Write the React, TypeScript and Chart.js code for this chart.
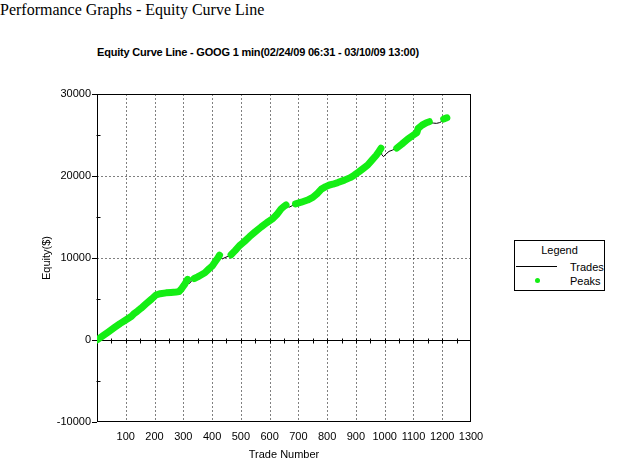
import React, { useEffect, useRef } from "react";
import { Chart, registerables } from "chart.js";

Chart.register(...registerables);

// Equity after each sampled trade (trade number -> equity in $)
const tradeNumbers = [
  0, 20, 40, 60, 80, 100, 120, 130, 140, 153, 170, 190, 205, 220, 240, 257, 275, 285, 295, 303,
  310, 315, 318, 322, 328, 338, 350, 360, 375, 390, 400, 410, 420, 426, 430, 436, 445, 455, 466, 480,
  495, 512, 530, 550, 571, 590, 611, 625, 640, 650, 657, 662, 668, 680, 690, 710, 732, 750, 767, 780,
  795, 808, 820, 837, 860, 880, 894, 910, 925, 941, 955, 970, 980, 987, 990, 996, 1005, 1015, 1028, 1042,
  1060, 1080, 1100, 1112, 1116, 1130, 1145, 1155, 1160, 1170, 1180, 1190, 1196, 1205, 1216,
];
const equity = [
  0, 500, 1000, 1500, 2000, 2440, 2900, 3250, 3500, 3860, 4400, 5000, 5490, 5650, 5750, 5800, 5850, 5900, 6300, 6700,
  7100, 7400, 7000, 6900, 7200, 7500, 7700, 7900, 8200, 8700, 9000, 9500, 10000, 10350, 10100, 9900, 10050, 10200, 10400, 10900,
  11500, 12000, 12600, 13200, 13800, 14300, 14800, 15300, 16000, 16300, 16460, 16300, 16200, 16400, 16600, 16800, 17070, 17400, 17900, 18400,
  18700, 18900, 19000, 19200, 19500, 19800, 20100, 20500, 20900, 21340, 21900, 22500, 23000, 23380, 22600, 22360, 22700, 23000, 23170, 23400,
  23900, 24500, 25000, 25300, 25800, 26200, 26500, 26620, 26500, 26450, 26420, 26500, 26600, 26950, 27100, 27350,
];

const xMin = 0;
const xMax = 1300;
const xStep = 100;
const yMin = -10000;
const yMax = 30000;
const yStep = 10000;
const dottedYLines = [10000, 20000];
const minorYTicks = [-5000, 5000, 15000, 25000];

const pageTitle = "Performance Graphs - Equity Curve Line";
const chartTitle = "Equity Curve Line - GOOG 1 min(02/24/09 06:31 - 03/10/09 13:00)";
const xTitle = "Trade Number";
const yTitle = "Equity($)";
const legendTitle = "Legend";
const tradesLabel = "Trades";
const peaksLabel = "Peaks";

const GREEN = "#14ee14";
const SANS = "'Liberation Sans', Arial, sans-serif";

// Frame, dotted grid, zero line and minor ticks
const framePlugin = {
  id: "frameAndGrid",
  beforeDatasetsDraw(chart: any) {
    const { ctx, chartArea: a, scales } = chart;
    const xs = scales.x;
    const ys = scales.y;
    const L = Math.round(a.left) + 0.5;
    const R = Math.round(a.right) - 0.5;
    const T = Math.round(a.top) + 0.5;
    const B = Math.round(a.bottom) - 0.5;
    ctx.save();
    ctx.strokeStyle = "#000";
    ctx.lineWidth = 1;
    ctx.setLineDash([1, 3]);
    for (let v = xMin + xStep; v < xMax; v += xStep) {
      const px = Math.round(xs.getPixelForValue(v)) + 0.5;
      ctx.beginPath();
      ctx.moveTo(px, T);
      ctx.lineTo(px, B);
      ctx.stroke();
    }
    for (const v of dottedYLines) {
      const py = Math.round(ys.getPixelForValue(v)) + 0.5;
      ctx.beginPath();
      ctx.moveTo(L, py);
      ctx.lineTo(R, py);
      ctx.stroke();
    }
    ctx.setLineDash([]);
    const zy = Math.round(ys.getPixelForValue(0)) + 0.5;
    ctx.beginPath();
    ctx.moveTo(L, zy);
    ctx.lineTo(R, zy);
    ctx.stroke();
    for (let v = xMin + xStep / 2; v < xMax; v += xStep / 2) {
      const px = Math.round(xs.getPixelForValue(v)) + 0.5;
      ctx.beginPath();
      ctx.moveTo(px, zy - 2);
      ctx.lineTo(px, zy + 3);
      ctx.stroke();
    }
    for (const v of minorYTicks) {
      const py = Math.round(ys.getPixelForValue(v)) + 0.5;
      ctx.beginPath();
      ctx.moveTo(L - 1, py);
      ctx.lineTo(L + 3, py);
      ctx.stroke();
    }
    ctx.strokeRect(L, T, R - L, B - T);
    ctx.restore();
  },
};

export default function App() {
  const canvasRef = useRef<HTMLCanvasElement | null>(null);

  useEffect(() => {
    if (!canvasRef.current) return;
    const trades = tradeNumbers.map((t, i) => ({ x: t, y: equity[i] }));
    let runMax = -Infinity;
    const peaks = tradeNumbers.map((t, i) => {
      const v = equity[i];
      if (v >= runMax) {
        runMax = v;
        return { x: t, y: v };
      }
      return { x: t, y: null as number | null };
    });

    const chart = new Chart(canvasRef.current, {
      type: "line",
      data: {
        datasets: [
          {
            label: peaksLabel,
            data: peaks,
            borderColor: GREEN,
            backgroundColor: GREEN,
            borderWidth: 7,
            borderCapStyle: "round",
            borderJoinStyle: "round",
            pointRadius: 0,
            spanGaps: false,
            tension: 0,
            order: 0,
          },
          {
            label: tradesLabel,
            data: trades,
            borderColor: "#000",
            borderWidth: 1,
            pointRadius: 0,
            tension: 0,
            order: 1,
          },
        ],
      },
      options: {
        animation: false,
        responsive: false,
        events: [],
        layout: { padding: { left: 36, top: 94, right: 154, bottom: 0 } },
        plugins: {
          legend: { display: false },
          title: { display: false },
          tooltip: { enabled: false },
        },
        scales: {
          x: {
            type: "linear",
            min: xMin,
            max: xMax,
            afterFit: (s: any) => {
              s.height = 52;
            },
            border: { display: false },
            grid: { drawOnChartArea: false, drawTicks: false },
            ticks: {
              stepSize: xStep,
              padding: 8,
              color: "#000",
              maxRotation: 0,
              autoSkip: false,
              font: { family: SANS, size: 11 },
              callback: (v: any) => (v === 0 ? "" : String(v)),
            },
            title: {
              display: true,
              text: xTitle,
              color: "#000",
              font: { family: SANS, size: 11 },
              padding: { top: 0, bottom: 12 },
            },
          },
          y: {
            type: "linear",
            min: yMin,
            max: yMax,
            afterFit: (s: any) => {
              s.width = 61;
            },
            border: { display: false },
            grid: { drawOnChartArea: false, drawTicks: true, tickLength: 5, tickColor: "#000" },
            ticks: {
              stepSize: yStep,
              padding: 1,
              color: "#000",
              font: { family: SANS, size: 11 },
              callback: (v: any) => String(v),
            },
            title: {
              display: true,
              text: yTitle,
              color: "#000",
              font: { family: SANS, size: 11 },
              padding: { top: 4, bottom: 0 },
            },
          },
        },
      },
      plugins: [framePlugin],
    });
    return () => chart.destroy();
  }, []);

  return (
    <div style={{ position: "absolute", left: 0, top: 0, width: 625, height: 474, background: "#fff", overflow: "hidden" }}>
      <div
        style={{
          position: "absolute",
          left: 0,
          top: 1,
          fontFamily: "'Liberation Serif', 'Times New Roman', serif",
          fontSize: 16,
          lineHeight: "18px",
          color: "#000",
          whiteSpace: "nowrap",
        }}
      >
        {pageTitle}
      </div>
      <div
        style={{
          position: "absolute",
          left: 0,
          width: 516,
          top: 45,
          textAlign: "center",
          fontFamily: SANS,
          fontWeight: "bold",
          fontSize: 11,
          letterSpacing: "-0.2px",
          lineHeight: "14px",
          color: "#000",
          whiteSpace: "nowrap",
        }}
      >
        {chartTitle}
      </div>
      <canvas ref={canvasRef} width={625} height={474} style={{ position: "absolute", left: 0, top: 0, width: 625, height: 474 }} />
      <div
        style={{
          position: "absolute",
          left: 514,
          top: 240,
          width: 89,
          height: 49,
          border: "1px solid #000",
          fontFamily: SANS,
          fontSize: 11,
          color: "#000",
          background: "#fff",
        }}
      >
        <div style={{ position: "absolute", left: 0, right: 0, top: 2, textAlign: "center", lineHeight: "14px" }}>{legendTitle}</div>
        <div style={{ position: "absolute", left: 1, top: 25, width: 41, height: 1, background: "#000" }} />
        <div style={{ position: "absolute", left: 55, top: 19, lineHeight: "14px" }}>{tradesLabel}</div>
        <div
          style={{
            position: "absolute",
            left: 20,
            top: 37,
            width: 5,
            height: 5,
            borderRadius: "50%",
            background: GREEN,
          }}
        />
        <div style={{ position: "absolute", left: 55, top: 33, lineHeight: "14px" }}>{peaksLabel}</div>
      </div>
    </div>
  );
}
